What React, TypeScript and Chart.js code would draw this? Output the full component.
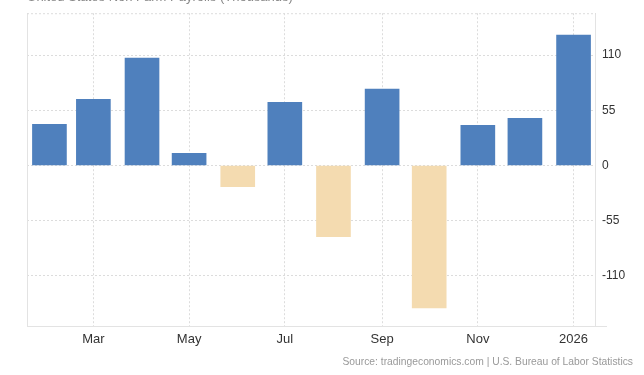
import React, { useEffect, useRef } from "react";
import { Chart, registerables } from "chart.js";

Chart.register(...registerables);

const months = [
  "2025-02-01", "2025-03-01", "2025-04-01", "2025-05-01", "2025-06-01", "2025-07-01",
  "2025-08-01", "2025-09-01", "2025-10-01", "2025-11-01", "2025-12-01", "2026-01-01",
];
const payrolls = [41, 66, 107, 12, -21, 63, -71, 76, -142, 40, 47, 130];
const xTickDates = ["2025-03-01", "2025-05-01", "2025-07-01", "2025-09-01", "2025-11-01", "2026-01-01"];
const xTickLabels = ["Mar", "May", "Jul", "Sep", "Nov", "2026"];
const yTicks = [-110, -55, 0, 55, 110];

const TITLE = "United States Non Farm Payrolls (Thousands)";
const SOURCE = "Source: tradingeconomics.com | U.S. Bureau of Labor Statistics";

const DAY = 86400000;
const origin = Date.parse(months[0] + "T00:00:00Z");
const dayOf = (d: string) => (Date.parse(d + "T00:00:00Z") - origin) / DAY;

const FONT = "'Liberation Sans', Arial, Helvetica, sans-serif";
const BLUE = "#4f80bd";
const BEIGE = "#f4dbb0";
const GRID = "#dcdcdc";
const FRAME = "#e3e3e3";

const framePlugin = {
  id: "frame",
  beforeDatasetsDraw(chart: any) {
    const { ctx, chartArea } = chart;
    const { left, right, top, bottom } = chartArea;
    ctx.save();
    ctx.lineWidth = 1;
    ctx.strokeStyle = FRAME;
    ctx.setLineDash([]);
    ctx.beginPath();
    ctx.moveTo(left + 0.5, top);
    ctx.lineTo(left + 0.5, bottom);
    ctx.moveTo(right - 0.5, top);
    ctx.lineTo(right - 0.5, bottom);
    ctx.moveTo(left, bottom - 0.5);
    ctx.lineTo(right + 11, bottom - 0.5);
    ctx.stroke();
    ctx.strokeStyle = GRID;
    ctx.setLineDash([2, 2]);
    ctx.beginPath();
    ctx.moveTo(left, top + 0.5);
    ctx.lineTo(right, top + 0.5);
    ctx.stroke();
    ctx.restore();
  },
};

export default function App() {
  const ref = useRef<HTMLCanvasElement | null>(null);

  useEffect(() => {
    if (!ref.current) return;
    const points = months.map((m, i) => ({ x: dayOf(m), y: payrolls[i] }));
    const chart = new Chart(ref.current, {
      type: "bar",
      data: {
        datasets: [
          {
            data: points as any,
            backgroundColor: payrolls.map((v) => (v >= 0 ? BLUE : BEIGE)),
            barThickness: 34,
            borderWidth: 0,
          },
        ],
      },
      plugins: [framePlugin],
      options: {
        animation: false,
        responsive: false,
        devicePixelRatio: 1,
        layout: { padding: { left: 27, top: 10, right: 0, bottom: 0 } },
        plugins: {
          legend: { display: false },
          tooltip: { enabled: false },
          title: { display: false },
        },
        scales: {
          x: {
            type: "linear",
            offset: false,
            min: -14.3,
            max: dayOf(months[months.length - 1]) + 14.3,
            afterBuildTicks(scale: any) {
              scale.ticks = xTickDates.map((d) => ({ value: dayOf(d) }));
            },
            afterFit(scale: any) {
              scale.height = 48;
            },
            grid: { color: GRID, drawTicks: false, lineWidth: 1, offset: false },
            border: { display: false, dash: [2, 2] },
            ticks: {
              padding: 5,
              color: "#333333",
              font: { family: FONT, size: 13 },
              maxRotation: 0,
              autoSkip: false,
              callback(value: any) {
                const idx = xTickDates.findIndex((d) => dayOf(d) === value);
                return idx >= 0 ? xTickLabels[idx] : "";
              },
            },
          },
          y: {
            type: "linear",
            position: "right",
            min: -160.9,
            max: 151.7,
            afterBuildTicks(scale: any) {
              scale.ticks = yTicks.map((v) => ({ value: v }));
            },
            afterFit(scale: any) {
              scale.width = 48;
            },
            grid: { color: GRID, drawTicks: false, lineWidth: 1 },
            border: { display: false, dash: [2, 2] },
            ticks: {
              padding: 6,
              color: "#333333",
              font: { family: FONT, size: 12 },
              callback(value: any) {
                return String(value);
              },
            },
          },
        },
      },
    });
    return () => chart.destroy();
  }, []);

  return (
    <div style={{ position: "fixed", left: 0, top: 0, width: 644, height: 375, background: "#fff", overflow: "hidden" }}>
      <canvas ref={ref} width={644} height={375} style={{ position: "absolute", left: 0, top: 0, width: 644, height: 375 }} />
      <div
        style={{
          position: "absolute",
          left: 27,
          top: -10,
          fontFamily: FONT,
          fontSize: 13,
          lineHeight: "13px",
          color: "#888",
          whiteSpace: "nowrap",
        }}
      >
        {TITLE}
      </div>
      <div
        style={{
          position: "absolute",
          right: 11,
          top: 355,
          fontFamily: FONT,
          fontSize: 10.3,
          lineHeight: "13px",
          color: "#999",
          whiteSpace: "nowrap",
        }}
      >
        {SOURCE}
      </div>
    </div>
  );
}
